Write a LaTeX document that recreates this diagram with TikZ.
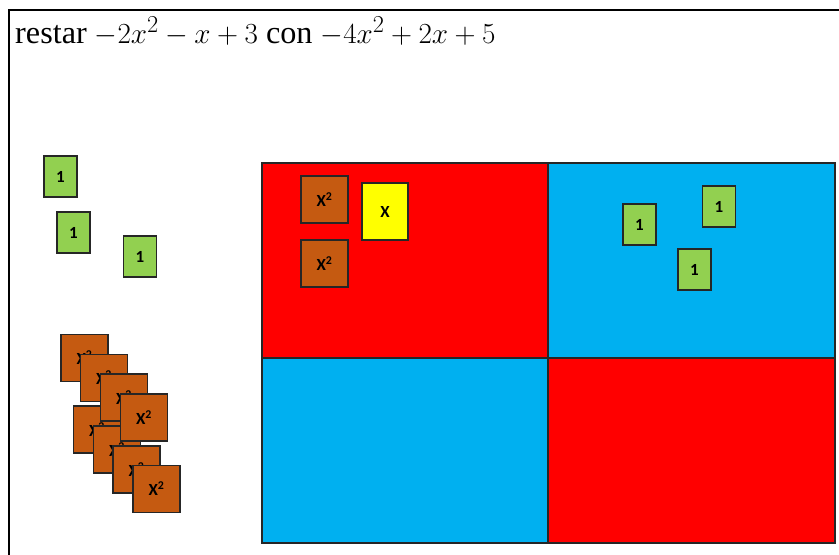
\documentclass[tikz,border=0pt]{standalone}
\usepackage{fontspec}
\setmainfont{Liberation Serif}
\newfontfamily\tilefont{Carlito}
\usepackage{tikz}
\usetikzlibrary{positioning}
\definecolor{algred}{HTML}{FF0000}
\definecolor{algblue}{HTML}{00B0F0}
\definecolor{unitgreen}{HTML}{92D050}
\definecolor{sqbrown}{HTML}{C55A11}
\definecolor{linyellow}{HTML}{FFFF00}
\definecolor{edge}{HTML}{262626}

\begin{document}
\begin{tikzpicture}[
  x=0.03cm, y=-0.03cm,
  quad/.style  = {rectangle, draw=edge, line width=1.3pt, inner sep=0pt},
  unit/.style  = {rectangle, draw=edge, line width=1.4pt, fill=unitgreen,
                  minimum width=0.99cm, minimum height=1.23cm, inner sep=0pt,
                  font=\tilefont\bfseries\fontsize{14.5}{16}\selectfont},
  sq/.style    = {rectangle, draw=edge, line width=1.4pt, fill=sqbrown,
                  minimum width=1.41cm, minimum height=1.41cm, inner sep=0pt,
                  font=\tilefont\bfseries\fontsize{14.5}{16}\selectfont},
  lin/.style   = {rectangle, draw=edge, line width=1.4pt, fill=linyellow,
                  minimum width=1.38cm, minimum height=1.71cm, inner sep=0pt,
                  font=\tilefont\bfseries\fontsize{14.5}{16}\selectfont},
]
\useasboundingbox (0,0) rectangle (839,554);
\clip (0,0) rectangle (839,554);
\fill[white] (0,0) rectangle (839,554);
% frame
\draw[line width=2.5pt] (9,570) -- (9,10) -- (850,10);
\node[anchor=base west, inner sep=0pt, font=\fontsize{27.5}{31}\selectfont] (title) at (15,43)
  {restar $-2x^2-x+3$ con $-4x^2+2x+5$};
% board
\node[quad, fill=algred,  minimum width=8.58cm, minimum height=5.85cm] (tl) at (405,260.5) {};
\node[quad, fill=algblue, minimum width=8.61cm, minimum height=5.85cm] (tr) at (691.5,260.5) {};
\node[quad, fill=algblue, minimum width=8.58cm, minimum height=5.55cm] (bl) at (405,450.5) {};
\node[quad, fill=algred,  minimum width=8.61cm, minimum height=5.55cm] (br) at (691.5,450.5) {};
% tiles on the board
\node[sq]   (b1) at (324.5,199.5) {X\textsuperscript{2}};
\node[sq]   (b2) at (324.5,263.5) {X\textsuperscript{2}};
\node[lin]  (y1) at (385,211.5)   {X};
\node[unit] (g4) at (639.5,224.5) {1};
\node[unit] (g5) at (719,206.5)   {1};
\node[unit] (g6) at (694.5,269.5) {1};
% loose unit tiles
\node[unit] (g1) at (60.5,176.5)  {1};
\node[unit] (g2) at (73.5,232.5)  {1};
\node[unit] (g3) at (140,256.5)   {1};
% loose x^2 tiles
\node[sq] (s5) at (97,429.5)  {X\textsuperscript{2}};
\node[sq] (s1) at (84.5,358)  {X\textsuperscript{2}};
\node[sq] (s2) at (104,378)   {X\textsuperscript{2}};
\node[sq] (s3) at (124,397.5) {X\textsuperscript{2}};
\node[sq] (s6) at (117,449.5) {X\textsuperscript{2}};
\node[sq] (s7) at (136.5,469.5) {X\textsuperscript{2}};
\node[sq] (s8) at (156.5,489) {X\textsuperscript{2}};
\node[sq] (s4) at (144,417.5) {X\textsuperscript{2}};
\end{tikzpicture}
\end{document}
